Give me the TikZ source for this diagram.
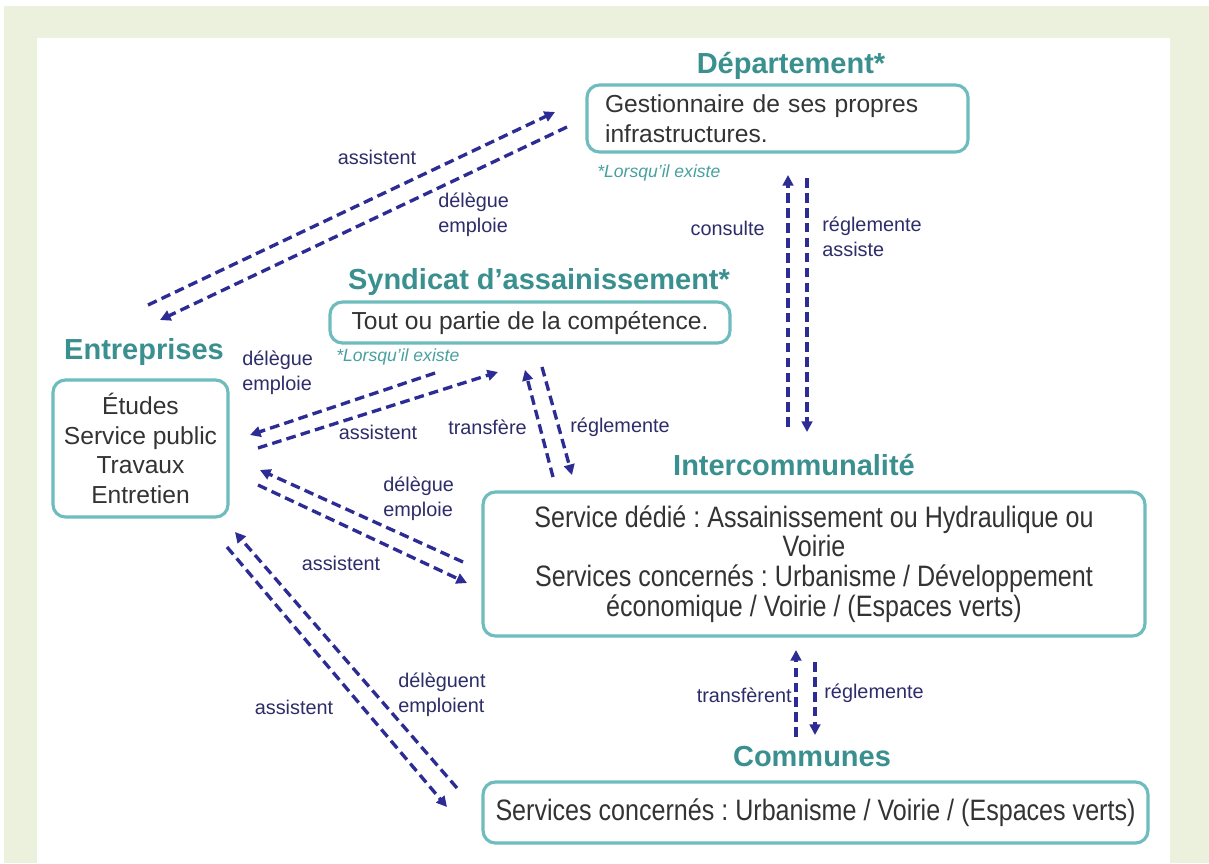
\documentclass[tikz,border=0pt]{standalone}
\usepackage{fontspec}
\setmainfont{Liberation Sans}
\newfontfamily\narrowfont[FakeStretch=0.85]{Liberation Sans}
\usetikzlibrary{arrows.meta}
\frenchspacing

\definecolor{fondvert}{RGB}{236,241,222}
\definecolor{titre}{RGB}{58,143,143}
\definecolor{bord}{RGB}{110,188,190}
\definecolor{fleche}{RGB}{44,44,148}
\definecolor{etiq}{RGB}{45,45,105}
\definecolor{note}{RGB}{72,160,160}
\definecolor{texte}{RGB}{51,51,51}

\tikzset{
  boite/.style={draw=bord, line width=1.8pt, rounded corners=7pt, fill=white,
    text=texte, align=center, inner sep=0pt, font=\fontsize{14}{17}\selectfont},
  titre/.style={text=titre, inner sep=0pt, font=\fontsize{16.5}{20}\selectfont\bfseries},
  etiquette/.style={text=etiq, inner sep=0pt, align=left, font=\fontsize{11.3}{14}\selectfont},
  renvoi/.style={text=note, inner sep=0pt, anchor=west, font=\fontsize{10}{12}\selectfont\itshape},
  lien/.style={draw=fleche, line width=1.9pt, dash pattern=on 5.5pt off 3pt,
    -{Triangle[length=6pt,width=6pt]}}
}

\begin{document}
\begin{tikzpicture}[x=0.02cm, y=-0.02cm]
\useasboundingbox (0,0) rectangle (1209,863);
\fill[white] (0,0) rectangle (1209,863);
\fill[fondvert] (4,6) rectangle (1209,863);
\fill[white] (37,38) rectangle (1170,863);

% boites
\node[boite, minimum width=7.62cm, minimum height=1.34cm, text width=6.9cm, align=left]
  (dep) at (777.5,118.5) {Gestionnaire de ses propres\\infrastructures.};
\node[boite, minimum width=8cm, minimum height=0.82cm] (synd) at (530,322.5)
  {Tout ou partie de la compétence.};
\node[boite, minimum width=3.5cm, minimum height=2.74cm] (entr) at (140.5,448.5)
  {Études\\Service public\\Travaux\\Entretien};
\node[boite, minimum width=13.24cm, minimum height=2.88cm, font=\narrowfont\fontsize{16.8}{17}\selectfont]
  (inter) at (814,564) {Service dédié : Assainissement ou Hydraulique ou\\Voirie\\
  Services concernés : Urbanisme / Développement\\économique / Voirie / (Espaces verts)};
\node[boite, minimum width=13.3cm, minimum height=1.22cm, font=\narrowfont\fontsize{16.8}{17}\selectfont]
  (comm) at (815.5,812.5) {Services concernés : Urbanisme / Voirie / (Espaces verts)};

% titres
\node[titre] (tdep) at (791,66) {Département*};
\node[titre] (tsynd) at (539,282) {Syndicat d’assainissement*};
\node[titre] (tentr) at (144,352) {Entreprises};
\node[titre] (tinter) at (794,465) {Intercommunalité};
\node[titre] (tcomm) at (812,757) {Communes};

\node[renvoi] (ndep) at (597,173) {*Lorsqu’il existe};
\node[renvoi] (nsynd) at (336,357) {*Lorsqu’il existe};

% extremites des fleches
\coordinate (EDa) at (148,305);
\coordinate (EDb) at (555,112);
\coordinate (DEa) at (567,127);
\coordinate (DEb) at (160,320);
\coordinate (IDa) at (788,427);
\coordinate (IDb) at (788,175);
\coordinate (DIa) at (807,178);
\coordinate (DIb) at (807,432);
\coordinate (SEa) at (435,373);
\coordinate (SEb) at (250,435);
\coordinate (ESa) at (258,448);
\coordinate (ESb) at (498,372);
\coordinate (ISa) at (553,477);
\coordinate (ISb) at (525,370);
\coordinate (SIa) at (542,367);
\coordinate (SIb) at (572,475);
\coordinate (IEa) at (463,562);
\coordinate (IEb) at (260,470);
\coordinate (EIa) at (258,485);
\coordinate (EIb) at (467,583);
\coordinate (CEa) at (457,788);
\coordinate (CEb) at (235,532);
\coordinate (ECa) at (227,547);
\coordinate (ECb) at (447,807);
\coordinate (CIa) at (796,737);
\coordinate (CIb) at (796,650);
\coordinate (ICa) at (815,662);
\coordinate (ICb) at (815,735);

\draw[lien] (EDa) -- (EDb);
\draw[lien] (DEa) -- (DEb);
\draw[lien] (IDa) -- (IDb);
\draw[lien] (DIa) -- (DIb);
\draw[lien] (SEa) -- (SEb);
\draw[lien] (ESa) -- (ESb);
\draw[lien] (ISa) -- (ISb);
\draw[lien] (SIa) -- (SIb);
\draw[lien] (IEa) -- (IEb);
\draw[lien] (EIa) -- (EIb);
\draw[lien] (CEa) -- (CEb);
\draw[lien] (ECa) -- (ECb);
\draw[lien] (CIa) -- (CIb);
\draw[lien] (ICa) -- (ICb);

% etiquettes
\node[etiquette] (l1) at (377,157) {assistent};
\node[etiquette, anchor=west] (l2) at (438,215) {délègue\\emploie};
\node[etiquette, anchor=east] (l3) at (765,228) {consulte};
\node[etiquette, anchor=west] (l4) at (822,237) {réglemente\\assiste};
\node[etiquette, anchor=west] (l5) at (242,373) {délègue\\emploie};
\node[etiquette] (l6) at (378,432) {assistent};
\node[etiquette, anchor=east] (l7) at (527,427) {transfère};
\node[etiquette, anchor=west] (l8) at (570,427) {réglemente};
\node[etiquette, anchor=west] (l9) at (383,499) {délègue\\emploie};
\node[etiquette] (l10) at (341,563) {assistent};
\node[etiquette, anchor=west] (l11) at (398,695) {délèguent\\emploient};
\node[etiquette] (l12) at (294,707) {assistent};
\node[etiquette, anchor=east] (l13) at (792,695) {transfèrent};
\node[etiquette, anchor=west] (l14) at (824,693) {réglemente};
\end{tikzpicture}
\end{document}
